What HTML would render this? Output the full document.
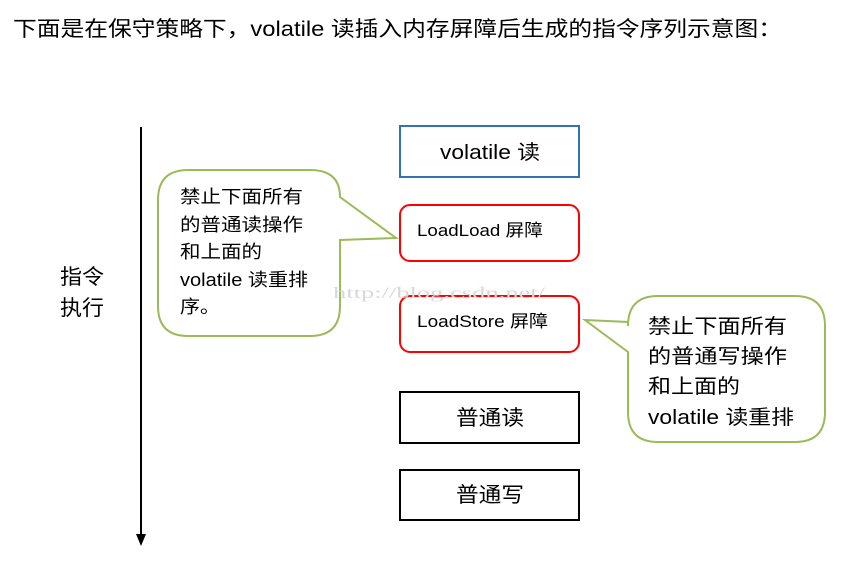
<!DOCTYPE html>
<html><head><meta charset="utf-8"><style>
html,body{margin:0;padding:0;background:#fff;}
svg{display:block;}
text{font-family:"Liberation Sans","Noto Sans CJK SC",sans-serif;fill:#000;}
</style></head><body>
<svg width="856" height="562" viewBox="0 0 856 562" xmlns="http://www.w3.org/2000/svg">
<text x="13" y="36" font-size="21" textLength="769" lengthAdjust="spacingAndGlyphs">下面是在保守策略下，volatile 读插入内存屏障后生成的指令序列示意图：</text>

<line x1="141" y1="127" x2="141" y2="536" stroke="#000" stroke-width="2"/>
<polygon points="136,534 146,534 141,546" fill="#000"/>
<text x="60" y="284" font-size="21" textLength="44" lengthAdjust="spacingAndGlyphs">指令</text>
<text x="60" y="315" font-size="21" textLength="44" lengthAdjust="spacingAndGlyphs">执行</text>

<!-- left callout -->
<path d="M188,170 H310 Q340,170 340,197 L396,238 L340,240 V306 Q340,336 310,336 H188 Q158,336 158,306 V200 Q158,170 188,170 Z" fill="#fff" stroke="#9bbb59" stroke-width="2"/>
<g font-size="18">
<text x="180" y="203" textLength="123" lengthAdjust="spacingAndGlyphs">禁止下面所有</text>
<text x="180" y="231" textLength="123" lengthAdjust="spacingAndGlyphs">的普通读操作</text>
<text x="180" y="258" textLength="82" lengthAdjust="spacingAndGlyphs">和上面的</text>
<text x="180" y="286" textLength="128" lengthAdjust="spacingAndGlyphs">volatile 读重排</text>
<text x="180" y="313" textLength="40" lengthAdjust="spacingAndGlyphs">序。</text>
</g>

<!-- right callout -->
<path d="M658,296 H795 Q825,296 825,326 V412 Q825,442 795,442 H658 Q628,442 628,412 V352 L585,320 L628,322 V326 Q628,296 658,296 Z" fill="#fff" stroke="#9bbb59" stroke-width="2"/>
<g font-size="20">
<text x="648" y="333" textLength="139" lengthAdjust="spacingAndGlyphs">禁止下面所有</text>
<text x="648" y="363" textLength="139" lengthAdjust="spacingAndGlyphs">的普通写操作</text>
<text x="648" y="393" textLength="92" lengthAdjust="spacingAndGlyphs">和上面的</text>
<text x="648" y="424" textLength="146" lengthAdjust="spacingAndGlyphs">volatile 读重排</text>
</g>

<rect x="400" y="126" width="179" height="51" fill="#fff" stroke="#2e75b6" stroke-width="2"/>
<text x="440" y="159" font-size="20" textLength="100" lengthAdjust="spacingAndGlyphs">volatile 读</text>

<rect x="400" y="205" width="179" height="56" rx="10" fill="#fff" stroke="#ff0000" stroke-width="2"/>
<text x="417" y="236" font-size="17" textLength="126" lengthAdjust="spacingAndGlyphs">LoadLoad 屏障</text>

<rect x="400" y="296" width="179" height="56" rx="10" fill="#fff" stroke="#ff0000" stroke-width="2"/>
<text x="417" y="327" font-size="17" textLength="131" lengthAdjust="spacingAndGlyphs">LoadStore 屏障</text>

<rect x="400" y="392" width="179" height="51" fill="#fff" stroke="#000" stroke-width="2"/>
<text x="456" y="425" font-size="21" textLength="68" lengthAdjust="spacingAndGlyphs">普通读</text>

<rect x="400" y="470" width="179" height="50" fill="#fff" stroke="#000" stroke-width="2"/>
<text x="456" y="502" font-size="21" textLength="68" lengthAdjust="spacingAndGlyphs">普通写</text>

<text x="333" y="298" font-size="16" textLength="212" lengthAdjust="spacingAndGlyphs" style="font-family:'Liberation Serif',serif;fill:#d8d8d8">http://blog.csdn.net/</text>
</svg>
</body></html>
